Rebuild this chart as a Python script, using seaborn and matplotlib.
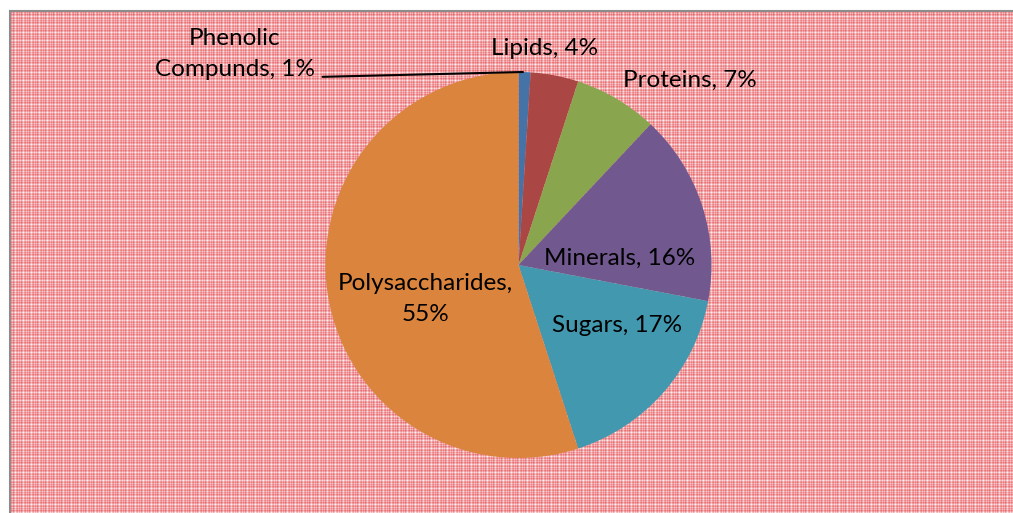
import numpy as np
import seaborn as sns
import matplotlib.pyplot as plt

components = ["Phenolic\nCompunds", "Lipids", "Proteins", "Minerals", "Sugars", "Polysaccharides,\n"]
shares = [1, 4, 7, 16, 17, 55]
colors = ["#4572A7", "#AA4643", "#89A54E", "#71588F", "#4198AF", "#DB843D"]

sns.set_theme(style="white")
plt.rcParams["font.family"] = ["Lato", "DejaVu Sans"]

W, H = 1013, 513
fig = plt.figure(figsize=(W / 100, H / 100), dpi=100)
fig.patch.set_facecolor("white")

# plaid pattern fill behind the chart
bg = fig.add_axes([10 / W, 0, (W - 10) / W, (H - 11) / H])
prof = np.array([0.3, 0.7, 0.4, 0.85, 0.5, 0.05, 0.55, 0.75])
ny, nx = H - 11, W - 10
ry = prof[np.arange(ny) % len(prof)]
rx = prof[np.arange(nx) % len(prof)]
red = 0.5 * (ry[:, None] + rx[None, :])
base = np.array([1.0, 1.0, 1.0])
tint = np.array([0.89, 0.30, 0.32])
img = base[None, None, :] * (1 - red[..., None]) + tint[None, None, :] * red[..., None]
bg.imshow(img, interpolation="nearest", aspect="auto")
bg.set_xticks([])
bg.set_yticks([])
for side in ["right", "bottom"]:
    bg.spines[side].set_visible(False)
for side in ["left", "top"]:
    bg.spines[side].set_color("#8c8c8c")
    bg.spines[side].set_linewidth(1.5)

# pie
cx, cy, r = 518.5, 265, 193
ax = fig.add_axes([(cx - r) / W, (H - cy - r) / H, 2 * r / W, 2 * r / H])
ax.pie(shares, colors=colors, startangle=90, counterclock=False, radius=1,
       wedgeprops=dict(linewidth=0))
ax.set_xlim(-1, 1)
ax.set_ylim(-1, 1)
ax.set_aspect("equal")
ax.axis("off")

label_pos = [(-1.469, 1.095), (0.137, 1.124), (0.889, 0.959),
             (0.526, 0.036), (0.510, -0.316), (-0.484, -0.178)]
for name, v, (x, y) in zip(components, shares, label_pos):
    if name.endswith("\n"):
        txt = f"{name}{v}%"
    else:
        txt = f"{name}, {v}%"
    ax.text(x, y, txt, ha="center", va="center", fontsize=17.5,
            color="black", linespacing=1.6, clip_on=False)

# leader line for the smallest slice
ax.plot([-1.015, 0.023], [0.975, 1.0], color="black", lw=1.5, clip_on=False)

fig.savefig("out.png", dpi=100)
